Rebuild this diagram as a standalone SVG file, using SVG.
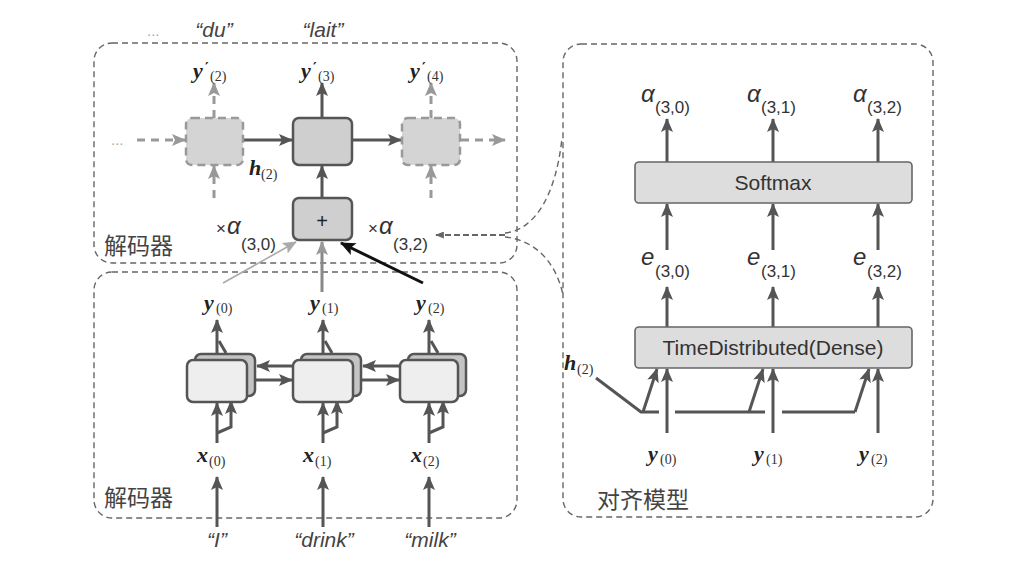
<svg xmlns="http://www.w3.org/2000/svg" width="1024" height="568" viewBox="0 0 1024 568">
<defs>
<style>
.frame{fill:none;stroke:#666;stroke-width:1.4;stroke-dasharray:6 4}
.ln{fill:none;stroke:#555;stroke-width:3}
.lnl{fill:none;stroke:#999;stroke-width:3;stroke-dasharray:8 6}
.cell{fill:#cfcfcf;stroke:#555;stroke-width:2.5}
.ghost{fill:#d4d4d4;stroke:#999;stroke-width:2.5;stroke-dasharray:8 5}
.enc{fill:#eeeeee;stroke:#555;stroke-width:2.5}
.encb{fill:#c4c4c4;stroke:#555;stroke-width:2.5}
.layer{fill:#dddddd;stroke:#666;stroke-width:1.6}
.sans{font-family:"Liberation Sans",Arial,sans-serif}
.cjk{font-family:"Noto Sans CJK SC","Liberation Sans",sans-serif;font-size:23px;fill:#444}
.var{font-family:"Liberation Serif","Times New Roman",serif;font-weight:bold;font-style:italic;font-size:22px;fill:#222}
.sub{font-family:"Liberation Serif","Times New Roman",serif;font-size:14px;fill:#333}
.pr{font-family:"DejaVu Sans","Liberation Sans",sans-serif;font-size:14px;font-weight:bold;fill:#222}
.gr{font-family:"Liberation Sans",Arial,sans-serif;font-style:italic;font-size:24px;fill:#333}
.gsub{font-family:"Liberation Sans",Arial,sans-serif;font-size:17px;fill:#333}
.word{font-family:"Liberation Sans",Arial,sans-serif;font-style:italic;font-size:21px;fill:#444}
.lbl{font-family:"Liberation Sans",Arial,sans-serif;font-size:21px;fill:#333}
</style>
<marker id="ah" viewBox="0 0 14 12" refX="13" refY="6" markerWidth="14" markerHeight="12" markerUnits="userSpaceOnUse" orient="auto"><path d="M0,0 L14,6 L0,12 L3,6 z" fill="#555"/></marker>
<marker id="ahg" viewBox="0 0 14 12" refX="13" refY="6" markerWidth="14" markerHeight="12" markerUnits="userSpaceOnUse" orient="auto"><path d="M0,0 L14,6 L0,12 L3,6 z" fill="#aaa"/></marker>
<marker id="ahm" viewBox="0 0 14 12" refX="13" refY="6" markerWidth="14" markerHeight="12" markerUnits="userSpaceOnUse" orient="auto"><path d="M0,0 L14,6 L0,12 L3,6 z" fill="#999"/></marker>
<marker id="ahk" viewBox="0 0 14 12" refX="13" refY="6" markerWidth="16" markerHeight="13" markerUnits="userSpaceOnUse" orient="auto"><path d="M0,0 L14,6 L0,12 L3,6 z" fill="#111"/></marker>
<marker id="ahs" viewBox="0 0 10 8" refX="9" refY="4" markerWidth="9" markerHeight="7" markerUnits="userSpaceOnUse" orient="auto"><path d="M0,0 L10,4 L0,8 z" fill="#666"/></marker>
</defs>
<rect width="1024" height="568" fill="#fff"/>

<!-- frames -->
<g id="decoder-frame">
<rect class="frame" x="94" y="43" width="423" height="220" rx="18"/>
<text class="cjk" x="104" y="254">解码器</text>
</g>
<g id="encoder-frame">
<rect class="frame" x="94" y="272" width="423" height="246" rx="18"/>
<text class="cjk" x="104" y="506">解码器</text>
</g>
<g id="alignment-frame">
<rect class="frame" x="563" y="44" width="370" height="473" rx="18"/>
<text class="cjk" x="597" y="508">对齐模型</text>
</g>

<!-- connectors -->
<g id="connectors">
<!-- decoder -->
<line class="ln" x1="322" y1="118" x2="322" y2="83" marker-end="url(#ah)"/>
<line class="lnl" x1="214" y1="118" x2="214" y2="83" marker-end="url(#ahm)" stroke-dasharray="6 5"/>
<line class="lnl" x1="431" y1="118" x2="431" y2="83" marker-end="url(#ahm)" stroke-dasharray="6 5"/>
<line class="lnl" x1="214" y1="198" x2="214" y2="166" marker-end="url(#ahm)" stroke-dasharray="8 5"/>
<line class="lnl" x1="431" y1="198" x2="431" y2="166" marker-end="url(#ahm)" stroke-dasharray="8 5"/>
<line class="lnl" x1="137" y1="140" x2="185" y2="140" marker-end="url(#ahm)"/>
<line class="lnl" x1="461" y1="140" x2="505" y2="140" marker-end="url(#ahm)"/>
<line class="ln" x1="243" y1="140" x2="292" y2="140" marker-end="url(#ah)"/>
<line class="ln" x1="352" y1="140" x2="401" y2="140" marker-end="url(#ah)"/>
<line class="ln" x1="322" y1="198" x2="322" y2="166" marker-end="url(#ah)"/>
<!-- into plus -->
<line x1="223" y1="283" x2="296" y2="242" stroke="#aaa" stroke-width="1.6" marker-end="url(#ahg)"/>
<line x1="322" y1="292" x2="322" y2="242" stroke="#888" stroke-width="3" marker-end="url(#ahm)"/>
<line x1="423" y1="283" x2="341" y2="243" stroke="#111" stroke-width="3" marker-end="url(#ahk)"/>
<!-- encoder inputs -->
<line class="ln" x1="217" y1="527" x2="217" y2="477" marker-end="url(#ah)"/>
<line class="ln" x1="323" y1="527" x2="323" y2="477" marker-end="url(#ah)"/>
<line class="ln" x1="429" y1="527" x2="429" y2="477" marker-end="url(#ah)"/>
<line class="ln" x1="217" y1="443" x2="217" y2="403" marker-end="url(#ah)"/>
<line class="ln" x1="323" y1="443" x2="323" y2="403" marker-end="url(#ah)"/>
<line class="ln" x1="429" y1="443" x2="429" y2="403" marker-end="url(#ah)"/>
<polyline class="ln" points="217,433 231,427 231,401" marker-end="url(#ah)"/>
<polyline class="ln" points="323,433 337,427 337,401" marker-end="url(#ah)"/>
<polyline class="ln" points="429,433 443,427 443,401" marker-end="url(#ah)"/>
<!-- encoder outputs -->
<line class="ln" x1="217" y1="360" x2="217" y2="320" marker-end="url(#ah)"/>
<line class="ln" x1="323" y1="360" x2="323" y2="320" marker-end="url(#ah)"/>
<line class="ln" x1="429" y1="360" x2="429" y2="320" marker-end="url(#ah)"/>
<line class="ln" x1="226" y1="353" x2="219" y2="341"/>
<line class="ln" x1="332" y1="353" x2="325" y2="341"/>
<line class="ln" x1="438" y1="353" x2="431" y2="341"/>
<!-- encoder recurrences -->
<line class="ln" x1="301" y1="366" x2="257" y2="366" marker-end="url(#ah)"/>
<line class="ln" x1="247" y1="380" x2="292" y2="380" marker-end="url(#ah)"/>
<line class="ln" x1="408" y1="366" x2="363" y2="366" marker-end="url(#ah)"/>
<line class="ln" x1="353" y1="380" x2="399" y2="380" marker-end="url(#ah)"/>
<!-- attention link -->
<path d="M505,235 L436,235" fill="none" stroke="#666" stroke-width="1.8" stroke-dasharray="6 3" marker-end="url(#ahs)"/>
<path d="M505,233 C535,230 556,195 562,138" fill="none" stroke="#666" stroke-width="1.4" stroke-dasharray="6 4"/>
<path d="M505,237 C535,240 556,262 563,295" fill="none" stroke="#666" stroke-width="1.4" stroke-dasharray="6 4"/>
<!-- alignment model -->
<line class="ln" x1="667" y1="162" x2="667" y2="119" marker-end="url(#ah)"/>
<line class="ln" x1="773" y1="162" x2="773" y2="119" marker-end="url(#ah)"/>
<line class="ln" x1="878" y1="162" x2="878" y2="119" marker-end="url(#ah)"/>
<line class="ln" x1="667" y1="250" x2="667" y2="204" marker-end="url(#ah)"/>
<line class="ln" x1="773" y1="250" x2="773" y2="204" marker-end="url(#ah)"/>
<line class="ln" x1="878" y1="250" x2="878" y2="204" marker-end="url(#ah)"/>
<line class="ln" x1="667" y1="327" x2="667" y2="287" marker-end="url(#ah)"/>
<line class="ln" x1="773" y1="327" x2="773" y2="287" marker-end="url(#ah)"/>
<line class="ln" x1="878" y1="327" x2="878" y2="287" marker-end="url(#ah)"/>
<line class="ln" x1="667" y1="433" x2="667" y2="369" marker-end="url(#ah)"/>
<line class="ln" x1="773" y1="433" x2="773" y2="369" marker-end="url(#ah)"/>
<line class="ln" x1="878" y1="433" x2="878" y2="369" marker-end="url(#ah)"/>
<polyline class="ln" points="596,378 641,412 659,412" stroke-width="2.5"/>
<line class="ln" x1="675" y1="412" x2="765" y2="412" stroke-width="2.5"/>
<line class="ln" x1="782" y1="412" x2="855" y2="412" stroke-width="2.5"/>
<line class="ln" x1="643" y1="412" x2="657" y2="369" stroke-width="2.5" marker-end="url(#ah)"/>
<line class="ln" x1="749" y1="412" x2="763" y2="369" stroke-width="2.5" marker-end="url(#ah)"/>
<line class="ln" x1="855" y1="412" x2="869" y2="369" stroke-width="2.5" marker-end="url(#ah)"/>
</g>

<!-- decoder nodes -->
<g id="dec-cell-2"><rect class="ghost" x="186" y="118" width="57" height="47" rx="6"/></g>
<g id="dec-cell-3"><rect class="cell" x="293" y="118" width="59" height="47" rx="6"/></g>
<g id="dec-cell-4"><rect class="ghost" x="402" y="118" width="58" height="47" rx="6"/></g>
<g id="plus"><rect class="cell" x="293" y="198" width="59" height="42" rx="6"/><text class="sans" x="322" y="228" font-size="20" text-anchor="middle" fill="#222">+</text></g>

<!-- encoder nodes -->
<g id="enc-cell-0"><rect class="encb" x="195" y="354" width="60" height="42" rx="6"/><rect class="enc" x="187" y="360" width="60" height="42" rx="6"/></g>
<g id="enc-cell-1"><rect class="encb" x="301" y="354" width="60" height="42" rx="6"/><rect class="enc" x="293" y="360" width="60" height="42" rx="6"/></g>
<g id="enc-cell-2"><rect class="encb" x="408" y="354" width="58" height="42" rx="6"/><rect class="enc" x="400" y="360" width="58" height="42" rx="6"/></g>

<!-- alignment nodes -->
<g id="softmax"><rect class="layer" x="635" y="162" width="277" height="41" rx="4"/><text class="lbl" x="773" y="190" text-anchor="middle">Softmax</text></g>
<g id="timedistributed"><rect class="layer" x="635" y="327" width="277" height="41" rx="4"/><text class="lbl" x="773" y="355" text-anchor="middle">TimeDistributed(Dense)</text></g>

<!-- labels -->
<g id="labels">
<text class="sans" x="147" y="36" font-size="15" fill="#aaa">...</text>
<text class="sans" x="111" y="145" font-size="15" fill="#aaa">...</text>
<text class="word" x="214" y="37" text-anchor="middle" fill="#777">“du”</text>
<text class="word" x="323" y="37" text-anchor="middle" fill="#333">“lait”</text>

<text class="var" x="193" y="78" fill="#aaa">y</text><text class="pr" x="205" y="72" fill="#aaa">′</text><text class="sub" x="210" y="81" fill="#aaa">(2)</text>
<text class="var" x="301" y="78">y</text><text class="pr" x="313" y="72">′</text><text class="sub" x="318" y="81">(3)</text>
<text class="var" x="410" y="78" fill="#aaa">y</text><text class="pr" x="422" y="72" fill="#aaa">′</text><text class="sub" x="427" y="81" fill="#aaa">(4)</text>

<text class="var" x="249" y="175">h</text><text class="sub" x="261" y="179">(2)</text>

<text x="216" y="234"><tspan class="gsub" font-size="14">×</tspan><tspan class="gr" dx="1">α</tspan></text><text class="gsub" x="241" y="250">(3,0)</text>
<text x="368" y="234"><tspan class="gsub" font-size="14">×</tspan><tspan class="gr" dx="1">α</tspan></text><text class="gsub" x="393" y="250">(3,2)</text>

<text class="var" x="204" y="310">y</text><text class="sub" x="216" y="313">(0)</text>
<text class="var" x="310" y="310">y</text><text class="sub" x="322" y="313">(1)</text>
<text class="var" x="416" y="310">y</text><text class="sub" x="428" y="313">(2)</text>

<text class="var" x="197" y="462">x</text><text class="sub" x="209" y="466">(0)</text>
<text class="var" x="303" y="462">x</text><text class="sub" x="315" y="466">(1)</text>
<text class="var" x="411" y="462">x</text><text class="sub" x="423" y="466">(2)</text>

<text class="word" x="217" y="547" text-anchor="middle">“I”</text>
<text class="word" x="324" y="547" text-anchor="middle">“drink”</text>
<text class="word" x="430" y="547" text-anchor="middle">“milk”</text>

<text class="gr" x="641" y="102">α</text><text class="gsub" x="655" y="113">(3,0)</text>
<text class="gr" x="747" y="102">α</text><text class="gsub" x="761" y="113">(3,1)</text>
<text class="gr" x="853" y="102">α</text><text class="gsub" x="867" y="113">(3,2)</text>

<text class="gr" x="641" y="265">e</text><text class="gsub" x="655" y="277">(3,0)</text>
<text class="gr" x="747" y="265">e</text><text class="gsub" x="761" y="277">(3,1)</text>
<text class="gr" x="853" y="265">e</text><text class="gsub" x="867" y="277">(3,2)</text>

<text class="var" x="564" y="370">h</text><text class="sub" x="577" y="374">(2)</text>

<text class="var" x="648" y="461">y</text><text class="sub" x="660" y="464">(0)</text>
<text class="var" x="754" y="461">y</text><text class="sub" x="766" y="464">(1)</text>
<text class="var" x="859" y="461">y</text><text class="sub" x="871" y="464">(2)</text>
</g>
</svg>
